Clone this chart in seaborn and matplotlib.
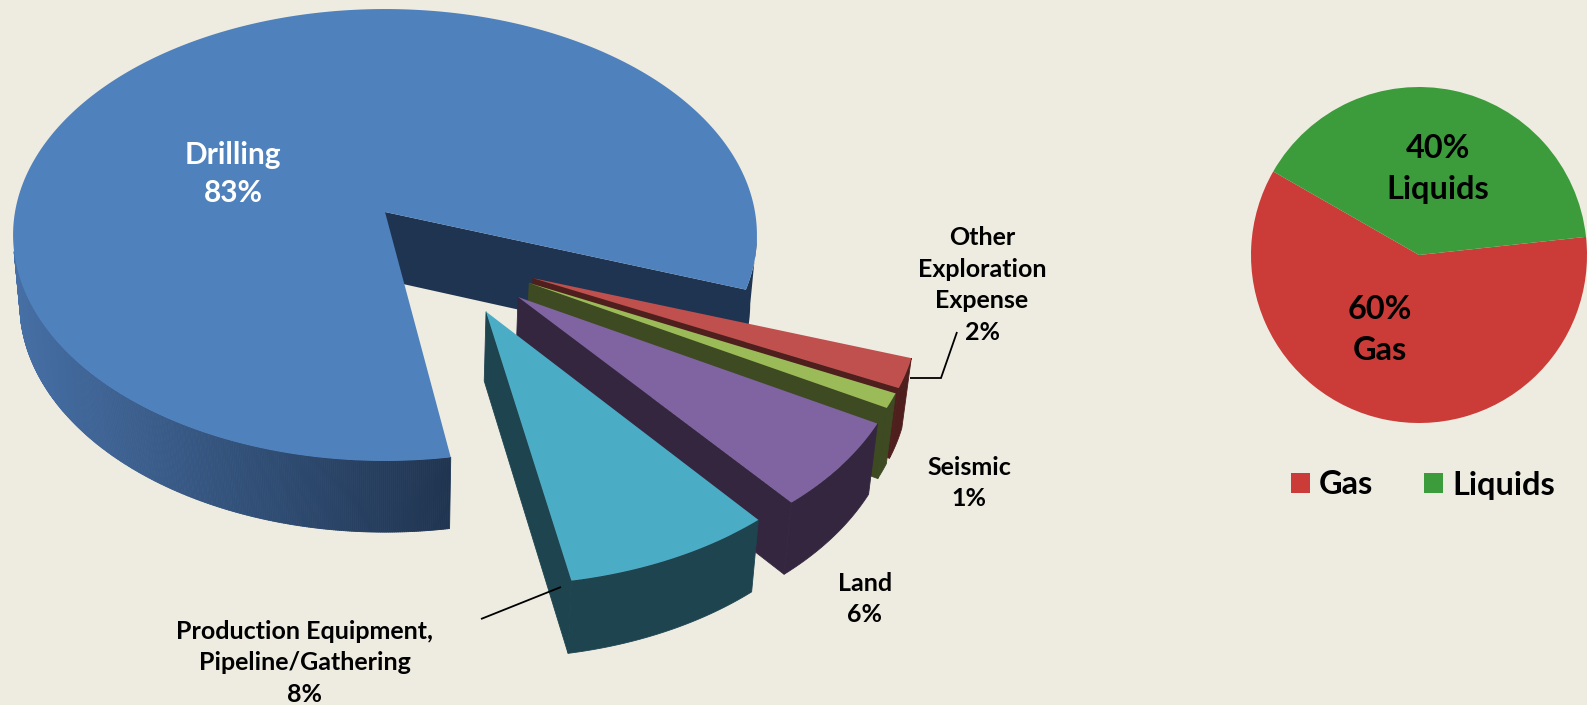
import numpy as np
import matplotlib
matplotlib.use("Agg")
import matplotlib.pyplot as plt
from matplotlib.collections import PolyCollection
import seaborn as sns

# Exploration and production spend by category (percent)
cost_labels = ["Other\nExploration\nExpense\n2%", "Seismic\n1%", "Land\n6%",
               "Production Equipment,\nPipeline/Gathering\n8%"]
cost_shares = [2, 1, 6, 8]
drilling_label = "Drilling\n83%"
drilling_share = 83

# Split of production by fluid (percent)
fluid_names = ["Gas", "Liquids"]
fluid_shares = [60, 40]
fluid_labels = ["60%\nGas", "40%\nLiquids"]

# Colours: top faces and shaded sides
BG = "#eeece1"
top_colors = ["#c0504d", "#9bbb59", "#8064a2", "#4bacc6"]
side_colors = ["#4f1f1e", "#3e4a22", "#352640", "#1e4450"]
drilling_top = "#4f81bd"
drilling_side_light = "#466fa5"
drilling_side_dark = "#1f3450"
fluid_colors = ["#cb3b38", "#3c9c3c"]

# How far each small slice is pulled out of the pie (radius, direction in degrees)
pull_radius = [0.483, 0.487, 0.504, 0.500]
pull_angle = [-36.5, -39.2, -46.6, -58.5]

# Projection of the tilted pie onto the page, in pixels
CX, CY = 385.0, 212.0
RX, RY = 370.0, 223.6
PERSP = 0.1017
THICK = 68.0
SHRINK = 0.982
FIRST_CUT = -19.0
DRILLING_TURN = -0.6

W, H = 1587, 705
sns.set_theme(style="white")
plt.rcParams["font.family"] = ["Lato", "DejaVu Sans"]
plt.rcParams["font.weight"] = "bold"

fig = plt.figure(figsize=(W / 100, H / 100), dpi=100, facecolor=BG)


def project(x, y, lower=False):
    """Map pie-plane coordinates to page pixels, on the top or bottom face."""
    x, y = np.atleast_1d(x).astype(float), np.atleast_1d(y).astype(float)
    w = 1 + PERSP * y
    s = SHRINK if lower else 1.0
    u = CX + s * RX * x / w
    v = CY - s * RY * y / w + (THICK / w if lower else 0.0)
    return np.column_stack([u, v])


def arc(a0, a1, ox=0.0, oy=0.0, n=120):
    t = np.radians(np.linspace(a0, a1, n))
    return ox + np.cos(t), oy + np.sin(t)


# Full-size pixel canvas that carries the exploded pie and every text
ax = fig.add_axes([0, 0, 1, 1], zorder=2)
ax.set_xlim(0, W)
ax.set_ylim(H, 0)
ax.axis("off")

# Drilling slice: the remaining sweep, clockwise from the end of the small slices
sweep = 3.6 * np.array(cost_shares)
edges = FIRST_CUT - np.concatenate([[0], np.cumsum(sweep)])
d_start = edges[-1] + DRILLING_TURN
d_end = d_start - 3.6 * drilling_share

# Cut face along the first radius, joined to the dark rim beside it
xa, ya = arc(-6, d_end + 360, n=30)
rim = np.vstack([project(0, 0), project(xa, ya)[::-1], project(xa, ya, True),
                 project(0, 0, True)])
ax.fill(rim[:, 0], rim[:, 1], color=drilling_side_dark, lw=0, zorder=1)

# Outer wall shaded left to right, built from narrow strips
xa, ya = arc(190, 360 + d_start, n=320)
up, lo = project(xa, ya), project(xa, ya, True)
strips = [np.array([up[i], up[i + 1], lo[i + 1], lo[i]]) for i in range(len(up) - 1)]
ramp = sns.blend_palette([drilling_side_light, drilling_side_dark], 256)
left, right = project(-1, 0)[0, 0], up[-1, 0]
pos = ((up[:-1, 0] - left) / (right - left)).clip(0, 1)
wall_cols = [ramp[int(p * 255)] for p in pos]
ax.add_collection(PolyCollection(strips, facecolors=wall_cols, edgecolors=wall_cols,
                                 linewidths=0.6, zorder=2))

xa, ya = arc(d_start, d_end, n=500)
face = np.vstack([project(0, 0), project(xa, ya)])
ax.fill(face[:, 0], face[:, 1], color=drilling_top, lw=0, zorder=3)

# Small slices, back to front
for i in range(len(cost_shares)):
    ox = pull_radius[i] * np.cos(np.radians(pull_angle[i]))
    oy = pull_radius[i] * np.sin(np.radians(pull_angle[i]))
    a0, a1 = edges[i], edges[i + 1]
    z = 4 + i
    xa, ya = arc(a0, a1, ox, oy, n=60)

    # Inner cut face on the clockwise side
    apex_u = project(ox, oy)
    apex_l = project(ox, oy, True)
    side = np.vstack([apex_u, project(xa[-1:], ya[-1:]),
                      project(xa[-1:], ya[-1:], True), apex_l])
    ax.fill(side[:, 0], side[:, 1], color=side_colors[i], lw=0.6, zorder=z)

    # Curved rim
    wall = np.vstack([project(xa, ya), project(xa, ya, True)[::-1]])
    ax.fill(wall[:, 0], wall[:, 1], color=side_colors[i], lw=0.6, zorder=z)

    # Top face
    top = np.vstack([apex_u, project(xa, ya)])
    ax.fill(top[:, 0], top[:, 1], color=top_colors[i], lw=0, zorder=z + 0.5)

# Leader lines
ax.plot([481, 561], [619, 587], color="black", lw=1.3, zorder=9, solid_capstyle="butt")
ax.plot([910, 941, 957], [378, 378, 332], color="black", lw=1.3, zorder=9,
        solid_joinstyle="miter", solid_capstyle="butt")

# Slice labels
ax.text(233, 174, drilling_label, color="white", fontsize=21.5, ha="center", va="center",
        linespacing=1.45, zorder=10)
label_xy = [(982, 285), (969, 483), (865, 599), (305, 663)]
for text, (lx, ly) in zip(cost_labels, label_xy):
    ax.text(lx, ly, text, color="black", fontsize=18, ha="center", va="center",
            linespacing=1.46, zorder=10)

# Fluid pie and its legend
R = 168
PX, PY = 1419, 255
ax_pie = fig.add_axes([(PX - R) / W, 1 - (PY + R) / H, 2 * R / W, 2 * R / H], zorder=1)
ax_pie.patch.set_alpha(0)
wedges, _ = ax_pie.pie(fluid_shares, colors=fluid_colors, startangle=150.2, radius=1.0,
                       counterclock=True, wedgeprops={"linewidth": 0})
ax_pie.set_xlim(-1, 1)
ax_pie.set_ylim(-1, 1)

for text, (lx, ly) in zip(fluid_labels, [(1380, 330), (1438, 169)]):
    ax.text(lx, ly, text, color="black", fontsize=23.4, ha="center", va="center",
            linespacing=1.5, zorder=10)

fig.legend(wedges, fluid_names, loc="center", bbox_to_anchor=(1423 / W, 1 - 485 / H),
           ncol=2, frameon=False, fontsize=23.4, labelcolor="black", handlelength=0.585,
           handleheight=0.585, handletextpad=0.28, columnspacing=1.57)

fig.savefig("out.png", dpi=100, facecolor=BG)
